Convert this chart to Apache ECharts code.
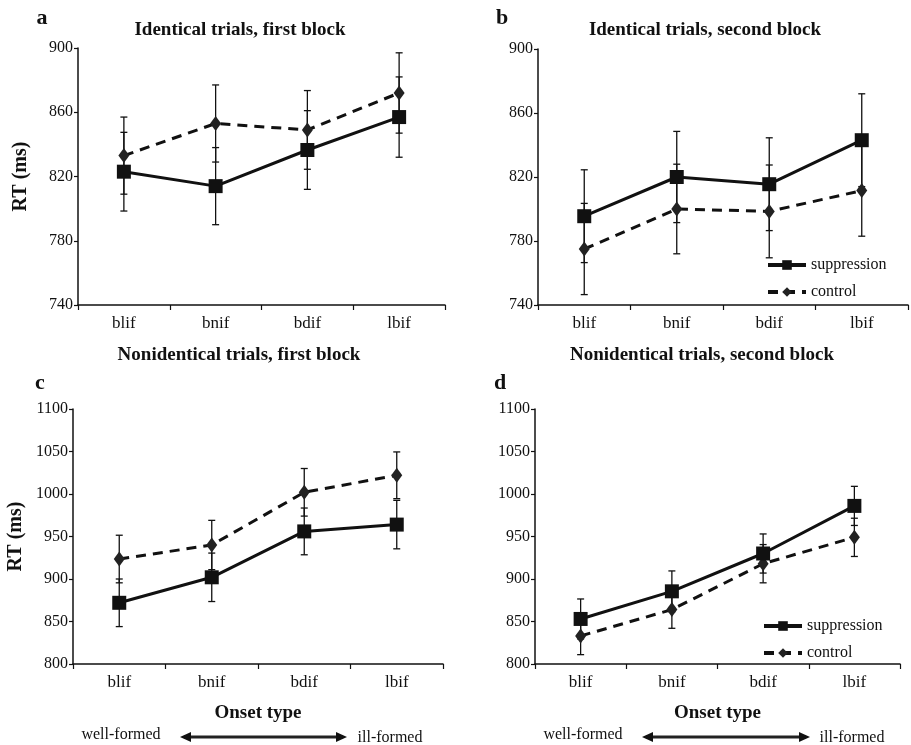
<!DOCTYPE html>
<html>
<head>
<meta charset="utf-8">
<script src="https://cdn.jsdelivr.net/npm/echarts@6/dist/echarts.min.js"></script>
<style>
  html, body { margin: 0; padding: 0; background: #fff; }
  #main { width: 911px; height: 745px; }
</style>
</head>
<body>
<div id="main"></div>
<script>
var categories = ['blif', 'bnif', 'bdif', 'lbif'];

// a: identical, first block
var suppA = [823, 814, 836.5, 857];
var errSuppA = [24.5, 24, 24.5, 25];
var ctrlA = [833, 853, 849, 872];
var errCtrlA = [24, 24, 24.5, 25];
// b: identical, second block
var suppB = [795.5, 820, 815.5, 843];
var errSuppB = [29, 28.5, 29, 29];
var ctrlB = [775, 800, 798.5, 811.5];
var errCtrlB = [28.5, 28, 29, 28.5];
// c: nonidentical, first block
var suppC = [872, 902, 956, 964];
var errSuppC = [28, 28.5, 27.5, 28.5];
var ctrlC = [923.5, 940, 1002, 1022];
var errCtrlC = [28, 29, 28, 27.5];
// d: nonidentical, second block
var suppD = [853, 885.5, 930, 986];
var errSuppD = [23.5, 24, 23, 23];
var ctrlD = [833, 864, 918, 949];
var errCtrlD = [22, 22, 22.5, 22.5];

var ticksTop = [740, 780, 820, 860, 900];
var ticksBottom = [800, 850, 900, 950, 1000, 1050, 1100];

var serif = '"Liberation Serif", "DejaVu Serif", serif';
var ink = '#111';

var dom = document.getElementById('main');
var myChart = echarts.init(dom, null, { renderer: 'canvas' });

function errRender(params, api) {
    var i = api.value(0);
    var lo = api.coord([i, api.value(1)]);
    var hi = api.coord([i, api.value(2)]);
    var w = 3.5;
    var st = { stroke: ink, lineWidth: 1.3 };
    return {
        type: 'group',
        children: [
            { type: 'line', shape: { x1: lo[0], y1: lo[1], x2: hi[0], y2: hi[1] }, style: st },
            { type: 'line', shape: { x1: lo[0] - w, y1: lo[1], x2: lo[0] + w, y2: lo[1] }, style: st },
            { type: 'line', shape: { x1: hi[0] - w, y1: hi[1], x2: hi[0] + w, y2: hi[1] }, style: st }
        ]
    };
}

function errData(vals, errs) {
    return vals.map(function (v, i) { return [i, v - errs[i], v + errs[i]]; });
}

var panels = [
    { supp: suppA, es: errSuppA, ctrl: ctrlA, ec: errCtrlA, ticks: ticksTop, grid: { left: 78, top: 48, width: 367, height: 257 }, ylabel: true, xname: false },
    { supp: suppB, es: errSuppB, ctrl: ctrlB, ec: errCtrlB, ticks: ticksTop, grid: { left: 538, top: 49, width: 370, height: 256 }, ylabel: false, xname: false },
    { supp: suppC, es: errSuppC, ctrl: ctrlC, ec: errCtrlC, ticks: ticksBottom, grid: { left: 73, top: 409, width: 370, height: 255 }, ylabel: true, xname: true },
    { supp: suppD, es: errSuppD, ctrl: ctrlD, ec: errCtrlD, ticks: ticksBottom, grid: { left: 535, top: 409, width: 365, height: 255 }, ylabel: false, xname: true }
];

var grids = [], xAxes = [], yAxes = [], series = [];

panels.forEach(function (p, k) {
    grids.push(p.grid);
    xAxes.push({
        type: 'category',
        gridIndex: k,
        data: categories,
        boundaryGap: true,
        axisLine: { lineStyle: { color: ink, width: 1.5 } },
        axisTick: { show: true, length: 5, lineStyle: { color: ink, width: 1.2 } },
        axisLabel: { color: '#111', fontFamily: serif, fontSize: 17, margin: 10 },
        name: p.xname ? 'Onset type' : '',
        nameLocation: 'middle',
        nameGap: 40,
        nameTextStyle: { color: '#111', fontFamily: serif, fontSize: 19, fontWeight: 'bold' },
        splitLine: { show: false }
    });
    var step = p.ticks[1] - p.ticks[0];
    yAxes.push({
        type: 'value',
        gridIndex: k,
        min: p.ticks[0],
        max: p.ticks[p.ticks.length - 1],
        interval: step,
        axisLine: { show: true, lineStyle: { color: ink, width: 1.5 } },
        axisTick: { show: true, length: 4, lineStyle: { color: ink, width: 1.2 } },
        axisLabel: {
            color: '#111', fontFamily: serif, fontSize: 16, margin: 5,
            formatter: function (v) { return String(v); }
        },
        splitLine: { show: false },
        name: p.ylabel ? 'RT (ms)' : '',
        nameLocation: 'middle',
        nameRotate: 90,
        nameGap: 47,
        nameTextStyle: { color: '#111', fontFamily: serif, fontSize: 20, fontWeight: 'bold' }
    });
    series.push({
        type: 'custom', xAxisIndex: k, yAxisIndex: k, renderItem: errRender,
        data: errData(p.ctrl, p.ec), z: 1, silent: true
    });
    series.push({
        type: 'custom', xAxisIndex: k, yAxisIndex: k, renderItem: errRender,
        data: errData(p.supp, p.es), z: 1, silent: true
    });
    series.push({
        name: 'control', type: 'line', xAxisIndex: k, yAxisIndex: k,
        data: p.ctrl, symbol: 'diamond', symbolSize: [11, 15],
        lineStyle: { color: ink, width: 3, type: [10, 7] },
        itemStyle: { color: '#222', borderWidth: 0 },
        z: 3
    });
    series.push({
        name: 'suppression', type: 'line', xAxisIndex: k, yAxisIndex: k,
        data: p.supp, symbol: 'rect', symbolSize: 14,
        lineStyle: { color: ink, width: 3 },
        itemStyle: { color: ink, borderWidth: 0 },
        z: 4
    });
});

function txt(x, y, s, size, bold, align) {
    return {
        type: 'text', x: x, y: y,
        style: {
            text: s, fill: '#111', textAlign: align || 'center', textVerticalAlign: 'middle',
            font: (bold ? 'bold ' : '') + size + 'px ' + serif
        }
    };
}

function arrow(x1, x2, y) {
    var h = 5, l = 11;
    return {
        type: 'group',
        children: [
            { type: 'line', shape: { x1: x1 + 4, y1: y, x2: x2 - 4, y2: y }, style: { stroke: '#222', lineWidth: 3 } },
            { type: 'polygon', shape: { points: [[x1, y], [x1 + l, y - h], [x1 + l, y + h]] }, style: { fill: '#111' } },
            { type: 'polygon', shape: { points: [[x2, y], [x2 - l, y - h], [x2 - l, y + h]] }, style: { fill: '#111' } }
        ]
    };
}

var legendBase = {
    data: ['suppression', 'control'], orient: 'vertical',
    itemWidth: 38, itemHeight: 12, itemGap: 11,
    lineStyle: { width: 4 },
    textStyle: { color: '#111', fontFamily: serif, fontSize: 16 }
};

var option = {
    backgroundColor: '#fff',
    animation: false,
    grid: grids,
    xAxis: xAxes,
    yAxis: yAxes,
    legend: [
        Object.assign({ left: 761, top: 252 }, legendBase),
        Object.assign({ left: 757, top: 613 }, legendBase)
    ],
    graphic: [
        txt(42, 18, 'a', 22, true),
        txt(502, 18, 'b', 22, true),
        txt(40, 383, 'c', 22, true),
        txt(500, 383, 'd', 22, true),
        txt(240, 30, 'Identical trials, first block', 19, true),
        txt(705, 30, 'Identical trials, second block', 19, true),
        txt(239, 355, 'Nonidentical trials, first block', 19, true),
        txt(702, 355, 'Nonidentical trials, second block', 19, true),
        txt(121, 735, 'well-formed', 16, false),
        txt(390, 738, 'ill-formed', 16, false),
        txt(583, 735, 'well-formed', 16, false),
        txt(852, 738, 'ill-formed', 16, false),
        arrow(180, 347, 737),
        arrow(642, 810, 737)
    ],
    series: series
};

option && myChart.setOption(option);
window.addEventListener('resize', myChart.resize);
</script>
</body>
</html>
